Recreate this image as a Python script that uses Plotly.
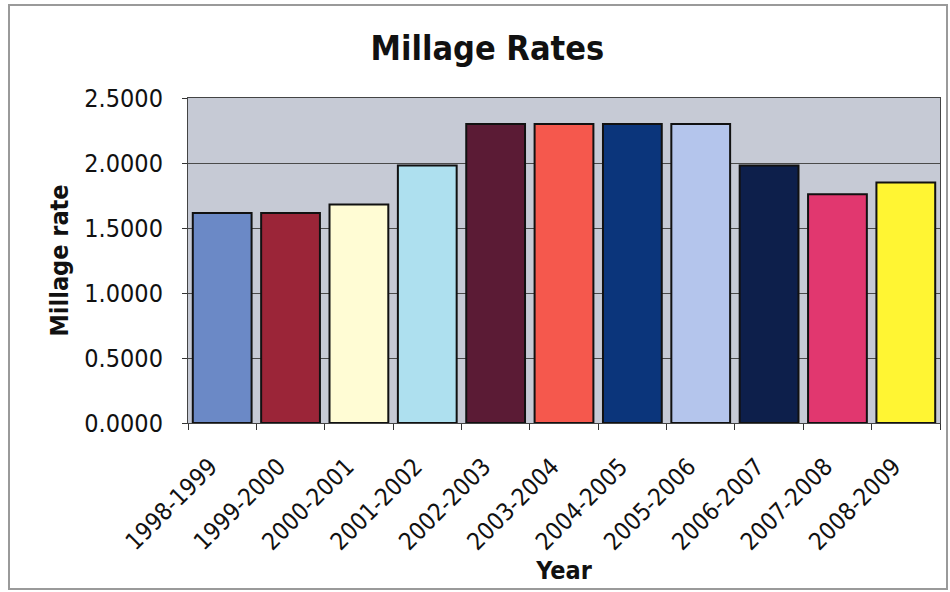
import plotly.graph_objects as go

# Millage rate by fiscal year
years = ["1998-1999", "1999-2000", "2000-2001", "2001-2002", "2002-2003", "2003-2004",
         "2004-2005", "2005-2006", "2006-2007", "2007-2008", "2008-2009"]
rates = [1.6150, 1.6150, 1.6800, 1.9800, 2.3000, 2.3000, 2.3000, 2.3000, 1.9800, 1.7600, 1.8500]
bar_colors = ["#6b89c6", "#9b2538", "#fffcd4", "#aee0ef", "#5b1b35", "#f5584d",
              "#0b357b", "#b4c5ec", "#0d1f4b", "#e1376f", "#fff533"]

W, H = 950, 592
L, R, T, B = 188, 10, 98, 169
pw, ph = W - L - R, H - T - B


def px(x):
    return (x - L) / pw


def py(y):
    return (H - B - y) / ph


fig = go.Figure(go.Bar(
    x=years, y=rates,
    marker=dict(color=bar_colors, line=dict(color="#111111", width=2)),
    width=0.86,
))

font_family = "DejaVu Sans Condensed, DejaVu Sans, sans-serif"

fig.update_layout(
    width=W, height=H,
    margin=dict(l=L, r=R, t=T, b=B),
    paper_bgcolor="white",
    plot_bgcolor="#c6cad5",
    showlegend=False,
    font=dict(family=font_family, color="#111111"),
    title=dict(text="<b>Millage Rates</b>", x=0.513, xanchor="center",
               y=1 - 48 / H, yanchor="middle",
               font=dict(size=34, family=font_family, color="#111111")),
    bargap=0.14,
)

fig.update_yaxes(
    range=[0, 2.5], dtick=0.5, tickformat=".4f",
    showgrid=True, gridcolor="#4a4a4a", gridwidth=1,
    ticks="outside", ticklen=5, tickcolor="#333333",
    showline=True, linecolor="#444444", linewidth=1, mirror=True,
    tickfont=dict(size=25, family=font_family),
    ticklabelstandoff=14,
    title=dict(text="<b>Millage rate</b>", font=dict(size=25, family=font_family), standoff=8),
    zeroline=False,
)

fig.update_xaxes(
    tickangle=-45, tickson="boundaries",
    ticks="outside", ticklen=6, tickcolor="#333333",
    showline=True, linecolor="#444444", linewidth=1, mirror=True,
    tickfont=dict(size=24, family=font_family),
    ticklabelstandoff=19, ticklabelshift=-12,
    title=dict(text="<b>Year</b>", font=dict(size=25, family=font_family), standoff=3),
)

# thin outer frame around the chart
fig.add_shape(type="rect", xref="paper", yref="paper",
              x0=px(9), x1=px(947), y0=py(589), y1=py(5),
              line=dict(color="#9a9a9a", width=2), fillcolor="rgba(0,0,0,0)", layer="below")

fig.write_html("out.html")
